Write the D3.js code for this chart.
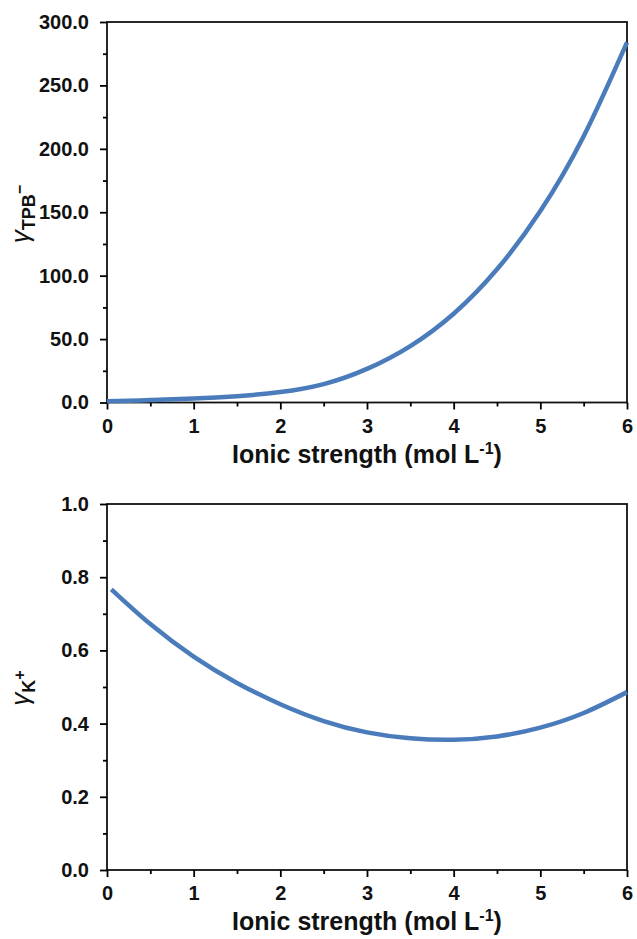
<!DOCTYPE html>
<html>
<head>
<meta charset="utf-8">
<script src="https://cdn.jsdelivr.net/npm/d3@7"></script>
<style>
  body { margin: 0; background: #fff; }
  svg { display: block; font-family: "Liberation Sans", Arial, sans-serif; }
  .tick text { font-weight: bold; }
</style>
</head>
<body>
<svg id="chart" width="637" height="939"></svg>
<script>
'use strict';
// ionic strength (mol/L) sampled along the curves
var ionicTop = [0, 0.5, 1, 1.5, 2, 2.5, 3, 3.5, 4, 4.5, 5, 5.5, 6];
var gammaTPB = [0.9, 1.9, 3.1, 5, 8.2, 14.5, 26.5, 44.5, 70, 105, 151, 210, 284];

var ionicBottom = [0.05, 0.5, 1, 1.5, 2, 2.5, 3, 3.5, 4, 4.5, 5, 5.5, 6];
var gammaK = [0.767, 0.672, 0.583, 0.511, 0.453, 0.407, 0.376, 0.360, 0.356, 0.365, 0.389, 0.429, 0.486];

var xTicks = [0, 1, 2, 3, 4, 5, 6];
var xMinor = [0.5, 1.5, 2.5, 3.5, 4.5, 5.5];
var yTicksTop = [0, 50, 100, 150, 200, 250, 300];
var yMinorTop = [25, 75, 125, 175, 225, 275];
var yTicksBottom = [0, 0.2, 0.4, 0.6, 0.8, 1.0];
var yMinorBottom = [0.1, 0.3, 0.5, 0.7, 0.9];

var svg = d3.select('#chart');
var lineColor = '#4a7cbb';

function drawPanel(opts) {
  var x = d3.scaleLinear().domain([0, 6]).range([opts.left, opts.right]);
  var y = d3.scaleLinear().domain(opts.yDomain).range([opts.bottom, opts.top]);
  var g = svg.append('g');

  // frame
  g.append('rect')
    .attr('x', opts.left).attr('y', opts.top)
    .attr('width', opts.right - opts.left)
    .attr('height', opts.bottom - opts.top)
    .attr('fill', 'none')
    .attr('stroke', '#111')
    .attr('stroke-width', 1.8);

  // minor ticks
  g.append('g')
    .attr('transform', 'translate(0,' + opts.bottom + ')')
    .call(d3.axisBottom(x).tickValues(xMinor).tickSize(4).tickFormat(''))
    .call(function(a) { a.select('.domain').remove(); })
    .selectAll('line').attr('stroke-width', 1.8);
  g.append('g')
    .attr('transform', 'translate(' + opts.left + ',0)')
    .call(d3.axisLeft(y).tickValues(opts.yMinor).tickSize(4).tickFormat(''))
    .call(function(a) { a.select('.domain').remove(); })
    .selectAll('line').attr('stroke-width', 1.8);

  // major ticks
  var xa = g.append('g')
    .attr('transform', 'translate(0,' + opts.bottom + ')')
    .call(d3.axisBottom(x).tickValues(xTicks).tickSize(7).tickPadding(9).tickFormat(d3.format('d')));
  xa.select('.domain').remove();
  xa.selectAll('line').attr('stroke-width', 1.8);
  xa.selectAll('text').attr('font-size', 20).attr('fill', '#111');

  var ya = g.append('g')
    .attr('transform', 'translate(' + opts.left + ',0)')
    .call(d3.axisLeft(y).tickValues(opts.yTicks).tickSize(7).tickPadding(11).tickFormat(d3.format(opts.fmt)));
  ya.select('.domain').remove();
  ya.selectAll('line').attr('stroke-width', 1.8);
  ya.selectAll('text').attr('font-size', 20).attr('fill', '#111');

  // curve
  var line = d3.line()
    .x(function(d) { return x(d[0]); })
    .y(function(d) { return y(d[1]); })
    .curve(d3.curveNatural);
  g.append('path')
    .datum(d3.zip(opts.xs, opts.ys))
    .attr('d', line)
    .attr('fill', 'none')
    .attr('stroke', lineColor)
    .attr('stroke-width', 4.5)
    .attr('stroke-linecap', 'butt');

  // x label
  var xl = g.append('text')
    .attr('x', (opts.left + opts.right) / 2)
    .attr('y', opts.bottom + 60)
    .attr('text-anchor', 'middle')
    .attr('font-size', 25)
    .attr('font-weight', 'bold')
    .attr('fill', '#111');
  xl.append('tspan').text('Ionic strength (mol L');
  xl.append('tspan').attr('font-size', 16).attr('dy', -9).text('-1');
  xl.append('tspan').attr('dy', 9).text(')');

  // y label
  var yl = g.append('text')
    .attr('transform', 'translate(' + 29 + ',' + opts.yLabelY + ') rotate(-90)')
    .attr('text-anchor', 'middle')
    .attr('fill', '#111');
  yl.append('tspan').attr('font-size', 26).attr('font-style', 'italic').text('γ');
  yl.append('tspan').attr('font-size', 18).attr('font-weight', 'bold').attr('dy', 6).text(opts.sub);
  yl.append('tspan').attr('font-size', 16).attr('font-weight', 'bold').attr('dy', -10).text(opts.sup);
}

drawPanel({
  left: 107, right: 627, top: 22, bottom: 402.5,
  yDomain: [0, 300], yTicks: yTicksTop, yMinor: yMinorTop, fmt: '.1f',
  xs: ionicTop, ys: gammaTPB,
  sub: 'TPB', sup: '−', yLabelY: 214
});

drawPanel({
  left: 107, right: 627, top: 504, bottom: 870,
  yDomain: [0, 1], yTicks: yTicksBottom, yMinor: yMinorBottom, fmt: '.1f',
  xs: ionicBottom, ys: gammaK,
  sub: 'K', sup: '+', yLabelY: 688
});
</script>
</body>
</html>
